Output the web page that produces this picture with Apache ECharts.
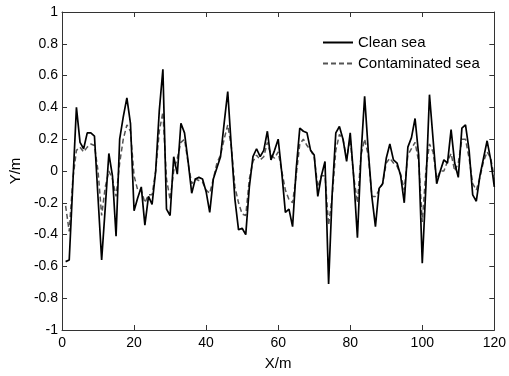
<!DOCTYPE html>
<html>
<head>
<meta charset="utf-8">
<script src="https://cdn.jsdelivr.net/npm/echarts@6/dist/echarts.min.js"></script>
<style>html,body{margin:0;padding:0;background:#fff}#c{width:509px;height:376px}</style>
</head>
<body>
<div id="c"></div>
<script>
var xValues = [];
for (var i = 1; i <= 120; i++) xValues.push(i);
var cleanSea = [
-0.57,-0.56,-0.08,0.40,0.18,0.14,0.24,0.24,0.22,-0.17,
-0.56,-0.23,0.11,-0.03,-0.41,0.20,0.34,0.46,0.30,-0.25,
-0.17,-0.10,-0.34,-0.16,-0.21,0.00,0.38,0.64,-0.24,-0.28,
0.09,-0.02,0.30,0.24,0.06,-0.14,-0.05,-0.04,-0.05,-0.13,
-0.26,-0.05,0.02,0.09,0.30,0.50,0.15,-0.18,-0.37,-0.36,
-0.40,-0.10,0.09,0.14,0.09,0.13,0.25,0.07,0.13,0.20,
-0.01,-0.26,-0.24,-0.35,0.01,0.27,0.25,0.24,0.13,0.10,
-0.16,-0.03,0.06,-0.71,-0.14,0.24,0.28,0.20,0.06,0.24,
-0.05,-0.42,0.10,0.47,0.13,-0.16,-0.35,-0.11,-0.08,0.08,
0.17,0.07,0.05,-0.03,-0.20,0.15,0.21,0.33,0.10,-0.58,
-0.10,0.48,0.20,-0.08,0.00,0.07,0.05,0.26,0.05,-0.04,
0.27,0.29,0.13,-0.15,-0.19,-0.03,0.08,0.19,0.07,-0.10
];
var contaminatedSea = [
-0.22,-0.38,-0.05,0.13,0.15,0.12,0.15,0.17,0.16,0.00,
-0.28,-0.10,0.00,-0.05,-0.16,0.05,0.20,0.29,0.25,-0.03,
-0.12,-0.12,-0.20,-0.15,-0.15,0.00,0.25,0.37,-0.05,-0.18,
0.00,0.08,0.18,0.20,0.05,-0.08,-0.05,-0.06,-0.07,-0.12,
-0.14,-0.05,0.05,0.10,0.20,0.29,0.15,-0.10,-0.20,-0.27,
-0.28,-0.05,0.06,0.10,0.07,0.09,0.18,0.10,0.08,0.12,
0.00,-0.12,-0.18,-0.20,-0.03,0.17,0.20,0.16,0.13,0.09,
-0.10,-0.03,-0.03,-0.34,-0.16,0.13,0.23,0.20,0.08,0.20,
-0.04,-0.20,0.10,0.20,0.10,-0.16,-0.16,-0.12,-0.08,0.05,
0.08,0.05,0.03,-0.02,-0.12,0.10,0.14,0.18,0.06,-0.32,
0.00,0.17,0.12,-0.05,0.00,0.00,0.06,0.11,0.00,0.05,
0.20,0.20,0.08,-0.08,-0.12,-0.04,0.06,0.12,0.08,-0.04
];
var seriesNames = ['Clean sea', 'Contaminated sea'];
var xTicks = {min: 0, max: 120, interval: 20};
var yTicks = {min: -1, max: 1, interval: 0.2};

function pairs(ys) { return xValues.map(function (x, i) { return [x, ys[i]]; }); }
var font = 'Arial, "Liberation Sans", sans-serif';
function ax(extra) {
  return Object.assign({
    axisLine: {show: true, onZero: false, lineStyle: {color: '#333', width: 1}},
    axisTick: {show: true, inside: true, length: 5, lineStyle: {color: '#333'}},
    splitLine: {show: false}
  }, extra);
}
var fmt = function (v) { return String(Math.round(v * 10) / 10); };

var chart = echarts.init(document.getElementById('c'), null, {renderer: 'canvas'});
chart.setOption({
  animation: false,
  backgroundColor: '#fff',
  grid: {left: 60, right: 10, top: 12, bottom: 36, containLabel: false},
  legend: {
    data: seriesNames, orient: 'vertical', left: 322, top: 35, padding: 0,
    itemWidth: 30, itemHeight: 14, itemGap: 6,
    itemStyle: {opacity: 0},
    textStyle: {fontFamily: font, fontSize: 15, color: '#000'}
  },
  xAxis: [
    ax({type: 'value', min: xTicks.min, max: xTicks.max, interval: xTicks.interval, position: 'bottom',
      name: 'X/m', nameLocation: 'middle', nameGap: 26,
      nameTextStyle: {fontFamily: font, fontSize: 15, color: '#000'},
      axisLabel: {fontFamily: font, fontSize: 14, color: '#000', margin: 6, formatter: fmt}}),
    ax({type: 'value', min: xTicks.min, max: xTicks.max, interval: xTicks.interval, position: 'top',
      axisLabel: {show: false}})
  ],
  yAxis: [
    ax({type: 'value', min: yTicks.min, max: yTicks.max, interval: yTicks.interval, position: 'left',
      name: 'Y/m', nameLocation: 'middle', nameGap: 29, nameRotate: 90,
      nameTextStyle: {fontFamily: font, fontSize: 15, color: '#000'},
      axisLabel: {fontFamily: font, fontSize: 14, color: '#000', margin: 4, formatter: fmt}}),
    ax({type: 'value', min: yTicks.min, max: yTicks.max, interval: yTicks.interval, position: 'right',
      axisLabel: {show: false}})
  ],
  series: [
    {name: seriesNames[0], type: 'line', data: pairs(cleanSea), symbol: 'none',
      lineStyle: {color: '#000', width: 1.7}, itemStyle: {color: '#000'}, z: 3},
    {name: seriesNames[1], type: 'line', data: pairs(contaminatedSea), symbol: 'none',
      lineStyle: {color: '#555', width: 1.5, type: [5, 3]}, itemStyle: {color: '#555'}, z: 2}
  ]
});
</script>
</body>
</html>
